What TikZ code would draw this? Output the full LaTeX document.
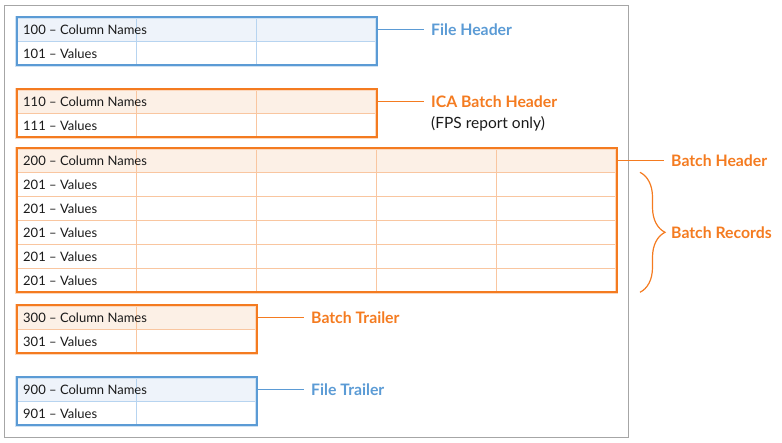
\documentclass[tikz,border=0pt]{standalone}
\usepackage{fontspec}
\setmainfont{Lato}
\usetikzlibrary{decorations.pathreplacing}
\definecolor{bl}{HTML}{5B9BD5}
\definecolor{blfill}{HTML}{EEF3FA}
\definecolor{blgrid}{HTML}{B7D4F0}
\definecolor{orm}{HTML}{F47B20}
\definecolor{orfill}{HTML}{FCF0E6}
\definecolor{orgrid}{HTML}{F9C6A0}
\definecolor{framegray}{HTML}{A6A6A6}
\definecolor{txt}{HTML}{1A1A1A}
\newcommand{\recordtable}[8]{%
  \fill[#7] (#2,#3) rectangle ++({120*#4},24);
  \pgfmathtruncatemacro\nc{#4-1}
  \pgfmathtruncatemacro\nr{#5-1}
  \foreach \i in {1,...,\nc} {\draw[#8, line width=1] ({#2+120*\i},#3) -- ++(0,{24*#5});}
  \foreach \j in {1,...,\nr} {\draw[#8, line width=1] (#2,{#3+24*\j}) -- ++({120*#4},0);}
  \draw[#6!30, line width=3] (#2,#3) rectangle ++({120*#4},{24*#5});
  \node[draw=#6, line width=1.6, inner sep=0, outer sep=0, minimum width={120pt*#4}, minimum height={24pt*#5}, anchor=north west] (#1) at (#2,#3) {};
}
\begin{document}
\begin{tikzpicture}[x=1pt,y=-1pt,
  cell/.style={anchor=west, inner sep=0, text=txt, font=\fontsize{13}{15}\selectfont},
  lab/.style={anchor=west, inner sep=0, font=\fontsize{15.8}{18}\selectfont\bfseries},
  note/.style={anchor=west, inner sep=0, text=txt, font=\fontsize{15.5}{18}\selectfont},
  lead/.style={line width=1.2}]
\useasboundingbox (0,0) rectangle (782,443);
\draw[framegray, line width=1] (4.5,5.5) rectangle (628.5,437.5);

\recordtable{fh}{16.7}{17.3}{3}{2}{bl}{blfill}{blgrid}
\recordtable{ica}{16.7}{89.3}{3}{2}{orm}{orfill}{orgrid}
\recordtable{bh}{16.7}{148.3}{5}{6}{orm}{orfill}{orgrid}
\recordtable{bt}{16.7}{305.3}{2}{2}{orm}{orfill}{orgrid}
\recordtable{ft}{16.7}{377.3}{2}{2}{bl}{blfill}{blgrid}

\node[cell] (t100) at (23,29.3) {100 – Column Names};
\node[cell] (t101) at (23,53.3) {101 – Values};
\node[cell] (t110) at (23,101.3) {110 – Column Names};
\node[cell] (t111) at (23,125.3) {111 – Values};
\node[cell] (t200) at (23,160.3) {200 – Column Names};
\node[cell] (t201a) at (23,184.3) {201 – Values};
\node[cell] (t201b) at (23,208.3) {201 – Values};
\node[cell] (t201c) at (23,232.3) {201 – Values};
\node[cell] (t201d) at (23,256.3) {201 – Values};
\node[cell] (t201e) at (23,280.3) {201 – Values};
\node[cell] (t300) at (23,317.3) {300 – Column Names};
\node[cell] (t301) at (23,341.3) {301 – Values};
\node[cell] (t900) at (23,389.3) {900 – Column Names};
\node[cell] (t901) at (23,413.3) {901 – Values};

\node[lab, text=bl] (lfh) at (431,29.3) {File Header};
\node[lab, text=orm] (lica) at (431,101.3) {ICA Batch Header};
\node[note] (lfps) at (431,123.5) {(FPS report only)};
\node[lab, text=orm] (lbh) at (671,160.3) {Batch Header};
\node[lab, text=orm] (lbr) at (671,232.3) {Batch Records};
\node[lab, text=orm] (lbt) at (311,317.3) {Batch Trailer};
\node[lab, text=bl] (lft) at (311,389.3) {File Trailer};

\draw[bl, lead, shorten >=7pt] (fh.east |- lfh) -- (lfh.west);
\draw[orm, lead, shorten >=7pt] (ica.east |- lica) -- (lica.west);
\draw[orm, lead, shorten >=7pt] (bh.east |- lbh) -- (lbh.west);
\draw[orm, lead, shorten >=7pt] (bt.east |- lbt) -- (lbt.west);
\draw[bl, lead, shorten >=7pt] (ft.east |- lft) -- (lft.west);

\coordinate (brtop) at (640,172.3);
\coordinate (brbot) at (640,292.3);
\draw[orm, lead, decorate, decoration={brace, amplitude=25pt}] (brtop) -- (brbot);
\end{tikzpicture}
\end{document}
